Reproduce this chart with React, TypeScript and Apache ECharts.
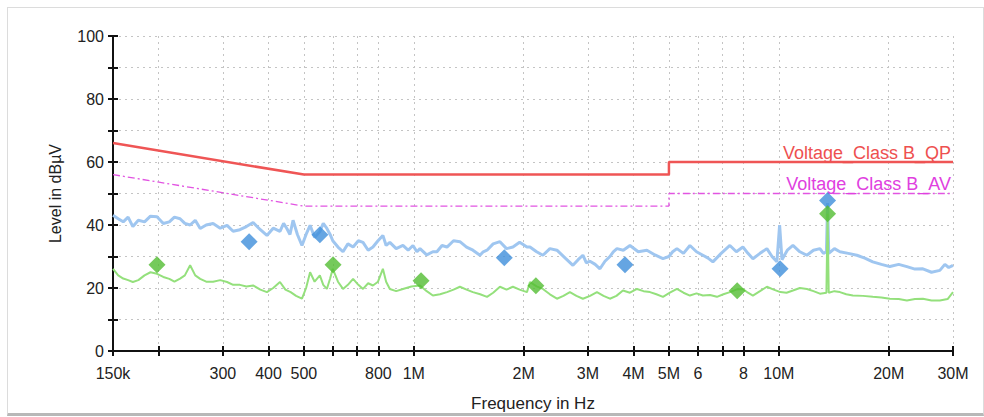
import React, { useEffect, useRef } from "react";
import * as echarts from "echarts";

// ---- data (frequencies in kHz, levels in dBµV) ----
const peakFreqKHz = [
  150, 155, 160, 165, 170, 176, 183, 190, 198, 206, 214, 221, 229, 236, 244, 252, 260, 270, 282, 295,
  308, 320, 334, 348, 363, 380, 396, 412, 430, 440, 449, 458, 467, 480, 494, 507, 520, 535, 553, 565,
  578, 590, 600, 620, 640, 660, 682, 705, 726, 750, 773, 798, 823, 840, 860, 895, 934, 965, 995, 1020,
  1040, 1085, 1128, 1157, 1195, 1233, 1285, 1338, 1395, 1452, 1518, 1550, 1587, 1650, 1722, 1795, 1869, 1950, 2042, 2081,
  2170, 2258, 2360, 2467, 2600, 2729, 2820, 2906, 2970, 3038, 3140, 3236, 3340, 3446, 3520, 3602, 3750, 3910, 4120, 4351,
  4580, 4815, 5000, 5120, 5259, 5480, 5708, 5950, 6194, 6400, 6597, 6950, 7345, 7650, 7973, 8230, 8492, 8880, 9275, 9580,
  9879, 10050, 10200, 10550, 10930, 11420, 11940, 12440, 12960, 13250, 13500, 13600, 13700, 14200, 14700, 15500, 16360, 17200, 18090, 19100,
  20150, 21300, 22430, 23600, 24810, 26200, 27610, 28500, 29200, 30000,
];
const peakLevel = [
  43.1, 42, 41, 42.5, 39.5, 41.5, 41, 42.8, 42.6, 40.5, 41, 42.5, 42, 40.5, 40, 41.5, 38.9, 40, 40.5, 39,
  39.9, 38, 38.5, 39.5, 40.8, 38.5, 36.7, 39, 38, 40.5, 38.9, 37, 41.5, 37, 33.5, 37, 39.9, 36, 37.9, 40.5,
  38.9, 37, 35, 33, 31.5, 34, 33, 35, 34.5, 32, 33, 35, 36.7, 33.5, 34.5, 32.5, 33.5, 32, 33.5, 31.5,
  32.5, 30.5, 31.5, 31.5, 33.5, 33, 35, 34.7, 33, 32, 30.4, 31.5, 32, 34, 34.7, 32.5, 33, 34.5, 33, 33,
  31.5, 30.4, 32.5, 32, 29.5, 27.2, 29, 30.4, 28, 28.5, 27.5, 26.1, 28.5, 30, 31.5, 32.5, 32, 33.5, 31.5, 32,
  30.5, 29.3, 30, 31.5, 32.5, 31, 33.5, 31.5, 30.4, 29.5, 28.3, 31, 33.5, 31.5, 33, 31, 29.3, 31, 32.5, 30,
  28.3, 40, 29, 32, 33.5, 31.5, 30.4, 32, 32.5, 31, 31.5, 47, 31, 32.5, 31.5, 31, 30.4, 29.5, 28.3, 27.5,
  26.8, 27.5, 26.8, 26, 26.1, 25, 25.6, 27.5, 26.5, 27.2,
];

const avgFreqKHz = [
  150, 155, 160, 165, 170, 176, 183, 190, 198, 206, 214, 221, 229, 236, 244, 252, 260, 270, 282, 295,
  308, 320, 334, 348, 363, 380, 396, 412, 430, 445, 460, 476, 494, 507, 520, 535, 553, 565, 578, 590,
  600, 620, 640, 660, 682, 705, 726, 750, 773, 798, 823, 840, 860, 895, 934, 985, 1040, 1085, 1128, 1180,
  1233, 1285, 1338, 1395, 1452, 1520, 1587, 1650, 1722, 1795, 1869, 1950, 2042, 2081, 2170, 2258, 2360, 2467, 2570, 2677,
  2790, 2906, 3040, 3175, 3310, 3446, 3590, 3741, 3910, 4087, 4260, 4436, 4620, 4815, 5030, 5259, 5480, 5708, 5950, 6194,
  6480, 6767, 7050, 7345, 7650, 7973, 8230, 8492, 8880, 9275, 9680, 10100, 10500, 10930, 11420, 11940, 12440, 12960, 13500, 13600,
  13700, 14200, 14700, 15300, 15950, 17000, 18090, 19100, 20150, 21300, 22430, 23600, 24810, 26200, 27610, 29000, 30000,
];
const avgLevel = [
  26.1, 24, 23, 22.5, 21.9, 22.5, 24, 25, 24.5, 23.5, 22.9, 22, 23, 24, 27.2, 24, 22.9, 22, 22, 22.5,
  21.9, 21, 21, 20.5, 20.8, 19.5, 18.7, 20, 21.9, 19.5, 18.7, 17.5, 16.6, 20, 25, 22, 24, 21, 19.7, 23,
  26.1, 22, 19.7, 21, 22.9, 21, 19.7, 21.5, 20.8, 22, 26.1, 22, 19.7, 19, 19.7, 20.5, 20.8, 19, 17.6, 18,
  18.7, 19.5, 20.4, 19.5, 18.7, 18, 17.2, 18.5, 20.4, 19.5, 20.4, 19.5, 18.7, 21.9, 20.5, 19.7, 18, 16.6, 17.5, 18.7,
  17.5, 16.6, 17.5, 18.7, 17.5, 16.6, 17.5, 19.2, 18.5, 19.7, 19, 18.7, 18, 17.2, 18.5, 19.7, 18.5, 17.6, 18.3, 17.6,
  17.8, 17.2, 18, 18.7, 19.5, 19.7, 18.5, 17.6, 19, 20.4, 19.5, 18.7, 18.5, 19.2, 20, 19.7, 19, 18.2, 18.5, 43.6,
  18.5, 19, 18.7, 18, 17.6, 17.5, 17.2, 17, 16.6, 16.5, 16, 16.5, 16.6, 16, 16, 16.5, 18.7,
];

const qpLimitFreqKHz = [150, 500, 5000, 5000, 30000];
const qpLimitLevel = [66, 56, 56, 60, 60];
const avLimitFreqKHz = [150, 500, 5000, 5000, 30000];
const avLimitLevel = [56, 46, 46, 50, 50];

const qpFinalFreqKHz = [354, 553, 1770, 3790, 10080, 13600];
const qpFinalLevel = [34.7, 36.9, 29.6, 27.4, 26.1, 47.8];
const avFinalFreqKHz = [198, 601, 1047, 2160, 7690, 13600];
const avFinalLevel = [27.4, 27.4, 22.3, 20.7, 19.1, 43.6];

const tickFreqHz = [150e3, 200e3, 300e3, 400e3, 500e3, 600e3, 700e3, 800e3, 1e6, 2e6, 3e6, 4e6, 5e6, 6e6, 7e6, 8e6, 10e6, 20e6, 30e6];
const labelFreqHz = [150e3, 300e3, 400e3, 500e3, 800e3, 1e6, 2e6, 3e6, 4e6, 5e6, 6e6, 8e6, 10e6, 20e6, 30e6];
const labelTexts = ["150k", "300", "400", "500", "800", "1M", "2M", "3M", "4M", "5M", "6", "8", "10M", "20M", "30M"];

const qpLimitName = "Voltage_Class B_QP";
const avLimitName = "Voltage_Class B_AV";

const FONT = "Arial, 'Liberation Sans', Helvetica, sans-serif";

const lg = (hz: number) => Math.log10(hz);
const pts = (fk: number[], v: number[]) => fk.map((f, i) => [lg(f * 1000), v[i]]);

export default function App() {
  const ref = useRef<HTMLDivElement>(null);

  useEffect(() => {
    if (!ref.current) return;
    const chart = echarts.init(ref.current, null, { renderer: "svg" });
    const xMin = lg(150e3);
    const xMax = lg(30e6);
    const tickX = tickFreqHz.map(lg);
    const labelX = labelFreqHz.map(lg);

    const limitPoints = (fk: number[], v: number[], name: string, color: string) => {
      const p = pts(fk, v);
      return p.map((d, i) =>
        i === p.length - 1
          ? {
              value: d,
              symbol: "circle",
              symbolSize: 1,
              itemStyle: { color: "rgba(0,0,0,0)" },
              label: {
                show: true,
                position: "top",
                align: "right",
                distance: 0,
                offset: [-2, 0],
                formatter: name,
                color,
                fontSize: 18,
                fontFamily: FONT,
              },
            }
          : { value: d }
      );
    };

    chart.setOption({
      animation: false,
      backgroundColor: "transparent",
      grid: { left: 113, right: 31, top: 36, bottom: 65, containLabel: false },
      xAxis: [
        {
          type: "value",
          min: xMin,
          max: xMax,
          position: "bottom",
          name: "Frequency in Hz",
          nameLocation: "middle",
          nameGap: 44,
          nameTextStyle: { fontSize: 17, color: "#222", fontFamily: FONT },
          axisLine: { show: true, onZero: false, lineStyle: { color: "#111", width: 2 } },
          axisTick: { show: true, inside: false, length: 5, customValues: tickX, lineStyle: { color: "#111", width: 2 } },
          axisLabel: {
            show: true,
            customValues: labelX,
            margin: 14,
            fontSize: 16,
            color: "#222",
            fontFamily: FONT,
            formatter: (val: number) => {
              for (let i = 0; i < labelX.length; i++) if (Math.abs(labelX[i] - val) < 1e-6) return labelTexts[i];
              return "";
            },
          },
          splitLine: { show: true, lineStyle: { color: "#c4c4c4", width: 1, type: [2, 4] } },
        },
        {
          type: "value",
          min: xMin,
          max: xMax,
          position: "bottom",
          axisLine: { show: false, onZero: false },
          axisTick: { show: true, inside: true, length: 5, customValues: tickX, lineStyle: { color: "#111", width: 2 } },
          axisLabel: { show: false },
          splitLine: { show: false },
        },
      ],
      yAxis: [
        {
          type: "value",
          min: 0,
          max: 100,
          interval: 10,
          position: "left",
          name: "Level in dBµV",
          nameLocation: "middle",
          nameGap: 50,
          nameTextStyle: { fontSize: 16, color: "#222", fontFamily: FONT },
          axisLine: { show: true, onZero: false, lineStyle: { color: "#111", width: 2 } },
          axisTick: { show: true, inside: false, length: 5, lineStyle: { color: "#111", width: 2 } },
          axisLabel: {
            margin: 9,
            fontSize: 16,
            color: "#222",
            fontFamily: FONT,
            formatter: (v: number) => (v % 20 === 0 ? String(v) : ""),
          },
          splitLine: { show: true, lineStyle: { color: "#c4c4c4", width: 1, type: [2, 4] } },
        },
        {
          type: "value",
          min: 0,
          max: 100,
          interval: 10,
          position: "left",
          axisLine: { show: false, onZero: false },
          axisTick: { show: true, inside: true, length: 5, lineStyle: { color: "#111", width: 2 } },
          axisLabel: { show: false },
          splitLine: { show: false },
        },
      ],
      series: [
        {
          name: "peak",
          type: "line",
          data: pts(peakFreqKHz, peakLevel),
          showSymbol: false,
          symbol: "none",
          lineStyle: { color: "#9fc6f0", width: 3 },
          z: 2,
        },
        {
          name: "average",
          type: "line",
          data: pts(avgFreqKHz, avgLevel),
          showSymbol: false,
          symbol: "none",
          lineStyle: { color: "#94e07c", width: 2 },
          z: 2,
        },
        {
          name: qpLimitName,
          type: "line",
          data: limitPoints(qpLimitFreqKHz, qpLimitLevel, qpLimitName, "#ee5050"),
          symbol: "none",
          showSymbol: true,
          lineStyle: { color: "#ef5555", width: 2.5 },
          z: 3,
        },
        {
          name: avLimitName,
          type: "line",
          data: limitPoints(avLimitFreqKHz, avLimitLevel, avLimitName, "#e040e0"),
          symbol: "none",
          showSymbol: true,
          lineStyle: { color: "#e254e2", width: 1.3, type: [7, 3, 2, 3] },
          z: 3,
        },
        {
          name: "QP final",
          type: "scatter",
          data: pts(qpFinalFreqKHz, qpFinalLevel),
          symbol: "diamond",
          symbolSize: [17, 17],
          itemStyle: { color: "#3e8edb" },
          z: 5,
        },
        {
          name: "AV final",
          type: "scatter",
          data: pts(avFinalFreqKHz, avFinalLevel),
          symbol: "diamond",
          symbolSize: [17, 17],
          itemStyle: { color: "#52bd32" },
          z: 5,
        },
      ],
    });
    return () => chart.dispose();
  }, []);

  return (
    <div style={{ position: "fixed", left: 0, top: 0, width: 984, height: 417, background: "#fff" }}>
      <div
        style={{
          position: "absolute",
          left: 7,
          top: 7,
          width: 975,
          height: 405,
          border: "1px solid #dcdcdc",
          borderBottom: "3px solid #b8b8b8",
          boxSizing: "content-box",
        }}
      />
      <div ref={ref} style={{ position: "absolute", left: 0, top: 0, width: 984, height: 417 }} />
    </div>
  );
}
